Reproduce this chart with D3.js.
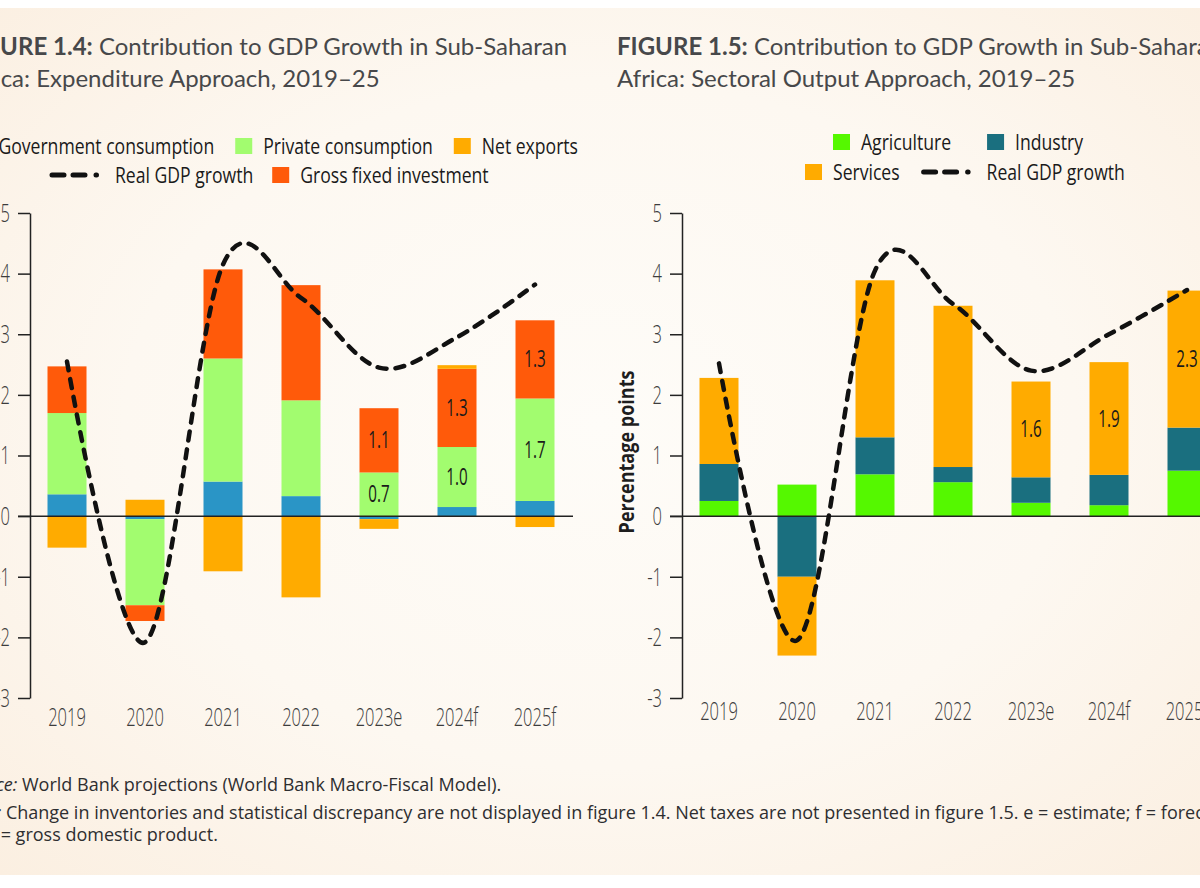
<!DOCTYPE html>
<html><head><meta charset="utf-8">
<script src="https://cdn.jsdelivr.net/npm/d3@7"></script>
<style>
html,body{margin:0;padding:0;background:#fff;}
svg{display:block;}
</style></head><body><svg id="c" width="1200" height="888"></svg>
<script>
// ---------- DATA ----------
const categories = ["2019","2020","2021","2022","2023e","2024f","2025f"];
const yTicks = [-3,-2,-1,0,1,2,3,4,5];

// Figure 1.4 (expenditure approach)
const expKeys = ["Government consumption","Private consumption","Gross fixed investment","Net exports"];
const govConsumption   = [0.36, -0.05, 0.57, 0.33, -0.05, 0.15, 0.25];
const privConsumption  = [1.34, -1.42, 2.03, 1.58, 0.72, 0.99, 1.69];
const grossFixedInv    = [0.77, -0.26, 1.47, 1.90, 1.06, 1.29, 1.29];
const netExports       = [-0.52, 0.27, -0.91, -1.34, -0.16, 0.06, -0.18];
const gdpGrowthExp     = [2.55, -2.08, 4.15, 3.60, 2.45, 2.95, 3.82];

// Figure 1.5 (sectoral output approach)
const secKeys = ["Agriculture","Industry","Services"];
const agriculture  = [0.25, 0.52, 0.69, 0.56, 0.22, 0.18, 0.75];
const industry     = [0.61, -1.00, 0.61, 0.25, 0.42, 0.50, 0.71];
const services     = [1.42, -1.30, 2.59, 2.66, 1.58, 1.86, 2.26];
const gdpGrowthSec = [2.52, -2.05, 4.05, 3.50, 2.40, 3.00, 3.73];

const titleLeftBold = "FIGURE 1.4:";
const titleLeftRest = " Contribution to GDP Growth in Sub-Saharan";
const titleLeft2 = "Africa: Expenditure Approach, 2019–25";
const titleRightBold = "FIGURE 1.5:";
const titleRightRest = " Contribution to GDP Growth in Sub-Saharan";
const titleRight2 = "Africa: Sectoral Output Approach, 2019–25";
const sourceText = "World Bank projections (World Bank Macro-Fiscal Model).";
const noteText = "Change in inventories and statistical discrepancy are not displayed in figure 1.4. Net taxes are not presented in figure 1.5. e = estimate; f = forecast;";
const gdpNote = "GDP = gross domestic product.";

// ---------- STYLE ----------
const CF = "'Open Sans','Noto Sans',sans-serif";   // rendered horizontally condensed
const TITLEF = "Lato,'Noto Sans','Open Sans',sans-serif";
const NOTEF = "'Open Sans','Noto Sans',sans-serif";
const expColors = {"Government consumption":"#2a95c6","Private consumption":"#a2fc6f","Gross fixed investment":"#ff5a0a","Net exports":"#ffab00"};
const secColors = {"Agriculture":"#55f800","Industry":"#1a6f7f","Services":"#ffab00"};

const svg = d3.select("#c");
const defs = svg.append("defs");
const rg = defs.append("radialGradient").attr("id","bg").attr("cx","50%").attr("cy","48%").attr("r","72%");
rg.append("stop").attr("offset","0%").attr("stop-color","#fefcf8");
rg.append("stop").attr("offset","55%").attr("stop-color","#fdf8f1");
rg.append("stop").attr("offset","100%").attr("stop-color","#fbefe1");
svg.append("rect").attr("width",1200).attr("height",888).attr("fill","#ffffff");
svg.append("rect").attr("x",0).attr("y",8).attr("width",1200).attr("height",867).attr("fill","url(#bg)");

// condensed text helper
function ctext(parent, x, y, str, o){
  o = o || {};
  return parent.append("text")
    .attr("transform",`translate(${x},${y}) scale(${o.sx||0.7},1)`)
    .attr("text-anchor",o.anchor||"start")
    .attr("dy",o.dy||"0.35em")
    .attr("font-family",CF)
    .attr("font-size",o.size||22)
    .attr("font-weight",o.weight||"normal")
    .attr("fill",o.fill||"#1a1a1a")
    .text(str);
}

const y = d3.scaleLinear().domain([-3,5]).range([698,213]);

function drawChart(o){
  const g = svg.append("g");
  const x = d3.scaleBand().domain(categories).range([o.axisX-2, o.axisX-2+546]).paddingInner(0.5).paddingOuter(0.25);
  const rows = categories.map((c,i)=>{const r={cat:c}; o.keys.forEach((k,j)=>r[k]=o.series[j][i]); return r;});
  const stacked = d3.stack().keys(o.keys).offset(d3.stackOffsetDiverging)(rows);

  stacked.forEach(s=>{
    g.append("g").selectAll("rect").data(s).join("rect")
      .attr("x", d=>x(d.data.cat))
      .attr("width", x.bandwidth())
      .attr("y", d=>y(Math.max(d[0],d[1])))
      .attr("height", d=>Math.abs(y(d[0])-y(d[1])))
      .attr("fill", o.colors[s.key]);
  });

  // value labels
  stacked.filter(s=>o.labelKeys.includes(s.key)).forEach(s=>{
    s.forEach((d,i)=>{
      if(!o.labelIdx.includes(i)) return;
      ctext(g, x(d.data.cat)+x.bandwidth()/2, y((d[0]+d[1])/2), d3.format(".1f")(d[1]-d[0]),
        {anchor:"middle", size:23, sx:0.66, fill:"#1a1a1a"});
    });
  });

  // y axis (line + ticks via d3 axis, labels condensed)
  const ax = g.append("g").attr("transform",`translate(${o.axisX},0)`)
    .call(d3.axisLeft(y).tickValues(yTicks).tickSize(12).tickSizeOuter(0).tickFormat(""));
  ax.select(".domain").attr("stroke","#222").attr("stroke-width",1.5);
  ax.selectAll(".tick line").attr("stroke","#222").attr("stroke-width",1.5);
  yTicks.forEach(v=>ctext(g, o.axisX-20, y(v), String(v), {anchor:"end", size:25, sx:0.66, fill:"#3c3c3c", weight:300}));

  // zero line
  g.append("line").attr("x1",o.axisX-12).attr("x2",o.zeroEnd).attr("y1",y(0)).attr("y2",y(0))
    .attr("stroke","#222").attr("stroke-width",1.5);

  // x labels
  categories.forEach(c=>ctext(g, x(c)+x.bandwidth()/2, o.xLabelY, c, {anchor:"middle", size:25, sx:0.66, fill:"#3c3c3c", weight:300}));

  // GDP line
  const line = d3.line().x((d,i)=>x(categories[i])+x.bandwidth()/2).y(d=>y(d)).curve(d3.curveCardinal.tension(0));
  g.append("path").attr("d", line(o.gdp)).attr("fill","none").attr("stroke","#111")
    .attr("stroke-width",4.5).attr("stroke-dasharray","9,9").attr("stroke-linecap","round");
  return g;
}

drawChart({axisX:30, keys:expKeys, series:[govConsumption,privConsumption,grossFixedInv,netExports],
  colors:expColors, gdp:gdpGrowthExp, labelKeys:["Private consumption","Gross fixed investment"], labelIdx:[4,5,6],
  xLabelY:717, zeroEnd:573});
drawChart({axisX:682, keys:secKeys, series:[agriculture,industry,services],
  colors:secColors, gdp:gdpGrowthSec, labelKeys:["Services"], labelIdx:[4,5,6],
  xLabelY:711, zeroEnd:1230});

// y-axis title (right chart)
svg.append("text").attr("transform","translate(626,452) rotate(-90) scale(0.82,1)").attr("text-anchor","middle")
  .attr("dy","0.35em").attr("font-family",CF).attr("font-size",22).attr("font-weight","bold").attr("fill","#1e1e1e")
  .text("Percentage points");

// ---------- LEGENDS ----------
const LSX = 0.80;
function legendRow(items, anchorX, cy, anchor, itemGap){
  const g = svg.append("g");
  let xpos = 0;
  items.forEach((it,k)=>{
    const ig = g.append("g").attr("transform",`translate(${xpos},0)`);
    let w, gap;
    if(it.type==="line"){
      ig.append("path").attr("d","M2,0H50").attr("stroke","#111").attr("stroke-width",5)
        .attr("stroke-linecap","round").attr("stroke-dasharray","12,9,12,11,0.5,100");
      w = 53; gap = 12;
    } else {
      ig.append("rect").attr("x",0).attr("y",-8).attr("width",17).attr("height",16).attr("fill",it.color);
      w = 17; gap = 11;
    }
    const t = ctext(ig, w+gap, 0, it.label, {size:22, sx:LSX, fill:"#1a1a1a"});
    xpos += w+gap+t.node().getComputedTextLength()*LSX + itemGap;
  });
  const total = xpos-itemGap;
  const x0 = anchor==="end" ? anchorX-total : anchorX;
  g.attr("transform",`translate(${x0},${cy})`);
}
legendRow([{label:"Government consumption",color:expColors["Government consumption"]},
           {label:"Private consumption",color:expColors["Private consumption"]},
           {label:"Net exports",color:expColors["Net exports"]}], 578, 146, "end", 21);
legendRow([{label:"Real GDP growth",type:"line"},
           {label:"Gross fixed investment",color:expColors["Gross fixed investment"]}], 50, 175, "start", 19);
legendRow([{label:"Agriculture",color:secColors["Agriculture"]},
           {label:"Industry",color:secColors["Industry"]}], 833, 142, "start", 36);
legendRow([{label:"Services",color:secColors["Services"]},
           {label:"Real GDP growth",type:"line"}], 805, 172, "start", 22);

// ---------- TITLES ----------
function title(x, l1b, l1, l2){
  const t1 = svg.append("text").attr("x",x).attr("y",55).attr("font-family",TITLEF).attr("font-size",24).attr("fill","#47484a");
  t1.append("tspan").attr("font-weight","bold").text(l1b);
  t1.append("tspan").text(l1);
  svg.append("text").attr("x",x).attr("y",87).attr("font-family",TITLEF).attr("font-size",24).attr("fill","#47484a").text(l2);
}
title(-38, titleLeftBold, titleLeftRest, titleLeft2);
title(617, titleRightBold, titleRightRest, titleRight2);

// ---------- NOTES ----------
const nf = svg.append("g").attr("font-family",NOTEF).attr("font-size",18).attr("fill","#2e2e30");
const s1 = nf.append("text").attr("x",-41).attr("y",791);
s1.append("tspan").attr("font-style","italic").text("Source:");
s1.append("tspan").text(" "+sourceText);
const s2 = nf.append("text").attr("x",-41).attr("y",819);
s2.append("tspan").attr("font-style","italic").text("Note:");
s2.append("tspan").text(" "+noteText);
nf.append("text").attr("x",-41).attr("y",841).text(gdpNote);
</script></body></html>
